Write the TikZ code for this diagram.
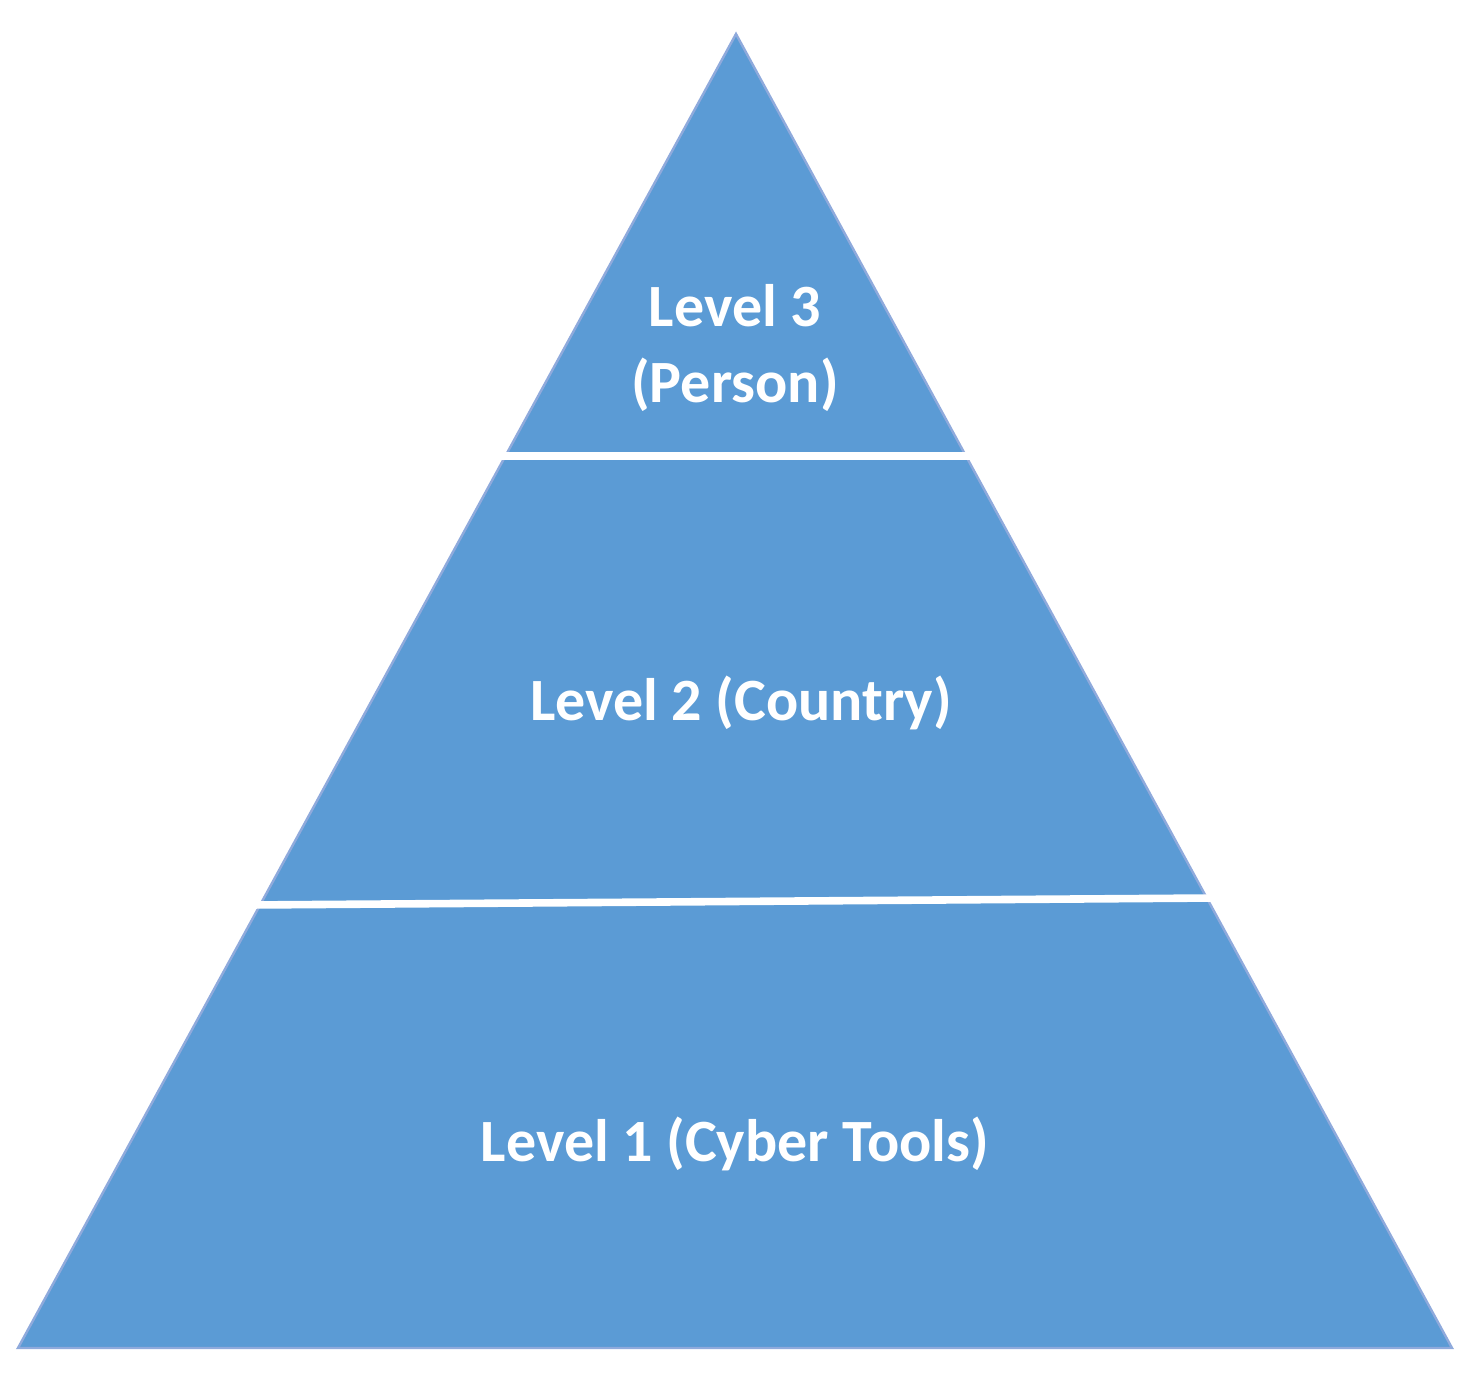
\documentclass[tikz,border=0pt]{standalone}
\usepackage{fontspec}
\setmainfont{Carlito}
\definecolor{pyrfill}{HTML}{5B9BD5}
\definecolor{pyredge}{HTML}{8FAADC}
\tikzset{
  x=0.5pt, y=-0.5pt,
  lvltext/.style={text=white, font=\fontsize{30pt}{36pt}\selectfont\bfseries, inner sep=0pt, anchor=base},
  gapline/.style={white, line width=3.8pt},
}
\begin{document}
\begin{tikzpicture}
\useasboundingbox (0,0) rectangle (1480,1385);
\coordinate (apex) at (736,34);
\coordinate (bl) at (18,1348);
\coordinate (br) at (1452,1348);
\filldraw[fill=pyrfill, draw=pyredge, line width=1.2pt, line join=miter] (apex) -- (br) -- (bl) -- cycle;
\coordinate (s1l) at (500,456);
\coordinate (s1r) at (975,456);
\coordinate (s2l) at (250,905);
\coordinate (s2r) at (1215,898);
\draw[gapline] (s1l) -- (s1r);
\draw[gapline] (s2l) -- (s2r);
\node[lvltext] (l3a) at (735,327) {Level 3};
\node[lvltext] (l3b) at (735,403) {(Person)};
\node[lvltext] (l2) at (741,721) {Level 2 (Country)};
\node[lvltext] (l1) at (735,1161) {Level 1 (Cyber Tools)};
\end{tikzpicture}
\end{document}
